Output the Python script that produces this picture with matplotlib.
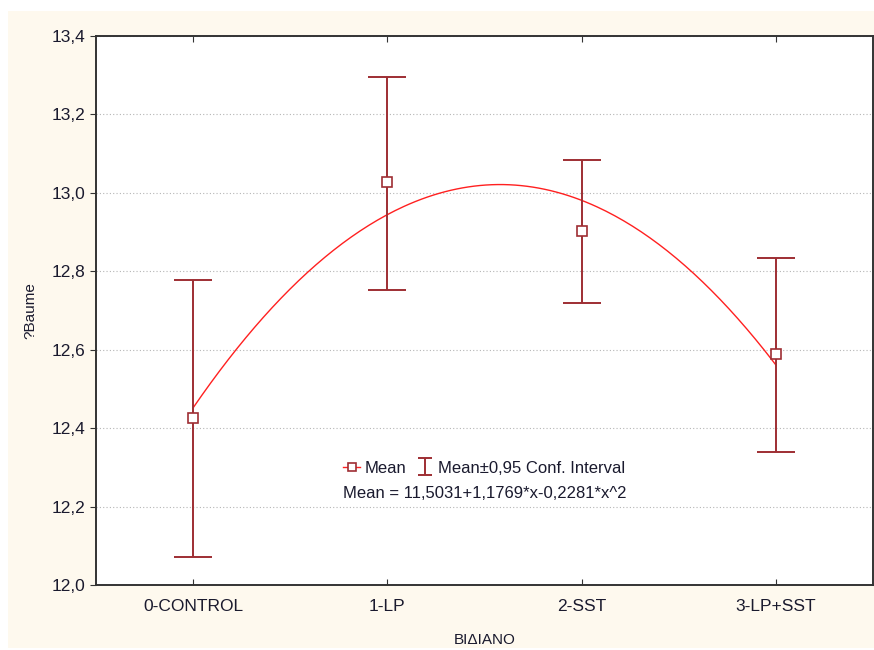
import numpy as np
import matplotlib
matplotlib.use("Agg")
import matplotlib.pyplot as plt
from matplotlib.patches import Rectangle
from matplotlib.lines import Line2D
from matplotlib.ticker import FuncFormatter

plt.rcParams['font.family'] = ['Liberation Sans', 'DejaVu Sans']

groups = ['0-CONTROL', '1-LP', '2-SST', '3-LP+SST']
means = [12.426, 13.028, 12.903, 12.589]
ci_low = [12.071, 12.752, 12.719, 12.339]
ci_high = [12.777, 13.295, 13.083, 12.834]
coef = [11.5031, 1.1769, -0.2281]   # Mean = a + b*x + c*x^2
yticks = [12.0, 12.2, 12.4, 12.6, 12.8, 13.0, 13.2, 13.4]

bar_col = '#9E2E33'
fig = plt.figure(figsize=(8.74, 6.5), dpi=100, facecolor='white')
fig.patches.append(Rectangle((8 / 874, 2 / 650), 1, 637 / 650, transform=fig.transFigure,
                             facecolor='#FEF9EE', edgecolor='none', zorder=-10))

ax = fig.add_axes([96 / 874, 65 / 650, 777 / 874, 549 / 650])
ax.set_facecolor('white')

x = np.arange(1, len(groups) + 1)
m = np.array(means)
err = [m - np.array(ci_low), np.array(ci_high) - m]

xs = np.linspace(1, 4, 200)
ax.plot(xs, coef[0] + coef[1] * xs + coef[2] * xs ** 2, color='#FF2020', lw=1.0, zorder=2)

ax.errorbar(x, m, yerr=err, fmt='none', ecolor=bar_col, elinewidth=1.4,
            capsize=14, capthick=1.4, zorder=3)
ax.plot(x, m, 's', ms=6.5, mfc='white', mec=bar_col, mew=1.2, zorder=4)

ax.set_xlim(0.5, 4.5)
ax.set_ylim(12.0, 13.4)
ax.set_xticks(x)
ax.set_xticklabels(groups)
ax.set_yticks(yticks)
ax.yaxis.set_major_formatter(FuncFormatter(lambda v, p: f'{v:.1f}'.replace('.', ',')))
ax.tick_params(axis='x', direction='in', top=True, length=4, labelsize=12.5, pad=10,
               color='#333333', labelcolor='#1a1a2e')
ax.tick_params(axis='y', direction='out', right=True, length=4, labelsize=12.5, pad=4,
               color='#333333', labelcolor='#1a1a2e')
ax.yaxis.grid(True, linestyle=(0, (1, 2)), color='#b5b5b5', lw=0.8)
for s in ax.spines.values():
    s.set_color('#333333')
    s.set_linewidth(1.4)

ax.set_ylabel('?Baume', fontsize=11, color='#1a1a2e')
ax.yaxis.set_label_coords(-0.075, 0.5)
ax.set_xlabel('ΒΙΔΙΑΝΟ', fontsize=11, color='#1a1a2e', labelpad=14)

# legend: mean marker and confidence interval bar
h_mean = Line2D([], [], color='#FF2020', lw=1.0, marker='s', ms=6, mfc='white',
                mec=bar_col, mew=1.2)
h_ci = ax.errorbar([np.nan], [np.nan], yerr=[1.0], fmt='none', ecolor=bar_col,
                   elinewidth=1.4, capsize=5, capthick=1.4)
ax.legend([h_mean, h_ci], ['Mean', 'Mean±0,95 Conf. Interval'], ncol=2, frameon=False,
          loc='center', bbox_to_anchor=(0.50, 0.213), fontsize=12, handlelength=1.0,
          handletextpad=0.3, columnspacing=0.6, labelcolor='#1a1a2e')
ax.text(0.50, 0.166, 'Mean = 11,5031+1,1769*x-0,2281*x^2', transform=ax.transAxes,
        ha='center', va='center', fontsize=12, color='#1a1a2e')

fig.savefig('out.png', dpi=100, facecolor=fig.get_facecolor())
